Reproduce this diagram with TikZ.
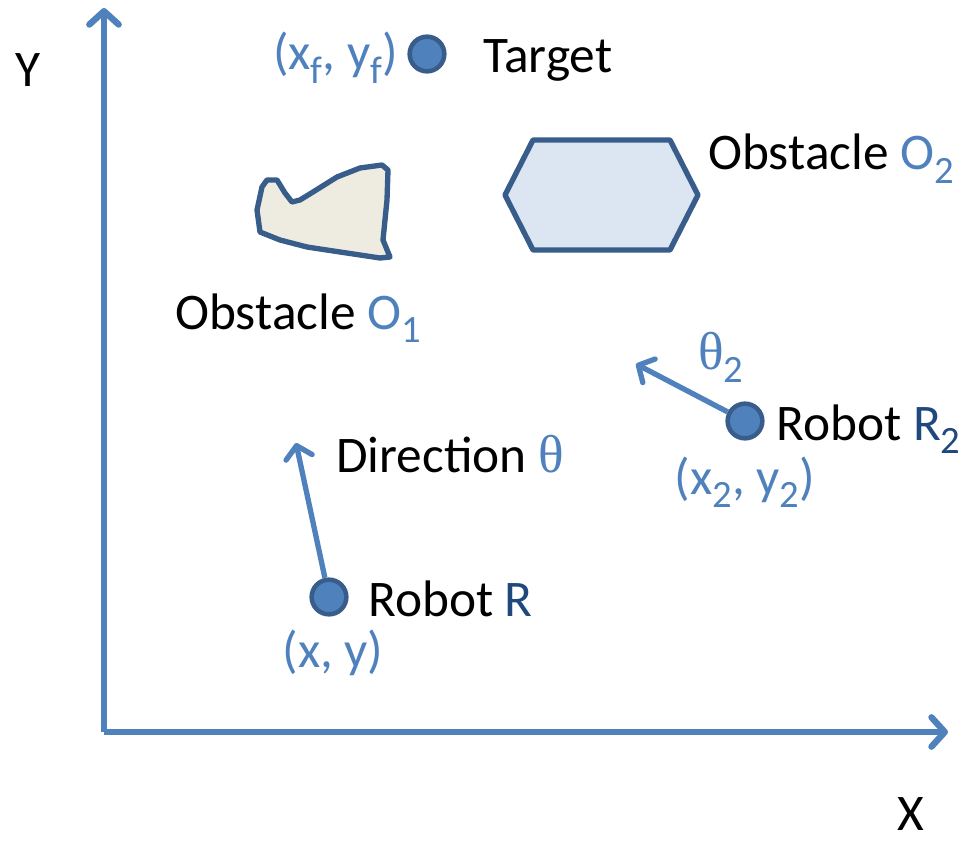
\documentclass[tikz,border=0pt]{standalone}
\usepackage{fontspec}
\setmainfont{Carlito}
\newfontfamily\greekfont{Liberation Serif}
\usetikzlibrary{arrows.meta}

\definecolor{axisblue}{HTML}{4F81BD}
\definecolor{edgeblue}{HTML}{385D8A}
\definecolor{namblue}{HTML}{1F497D}
\definecolor{hexfill}{HTML}{DCE6F2}
\definecolor{rockfill}{HTML}{EEECE1}

% lowered index in the text font
\newcommand{\lowidx}[1]{\raisebox{-0.55ex}{\fontsize{29}{29}\selectfont #1}}
\newcommand{\thet}{{\greekfont\fontsize{40}{44}\selectfont θ}}

\begin{document}
\begin{tikzpicture}[x=0.75pt, y=-0.75pt,
    word/.style={inner sep=0pt, anchor=base west, font=\fontsize{38.5}{44}\selectfont},
    posn/.style={word, text=axisblue},
    robot/.style={circle, inner sep=0pt, minimum size=26pt, fill=axisblue,
      draw=edgeblue, line width=3.4pt},
    axis/.style={draw=axisblue, line width=4.8pt,
      -{Straight Barb[length=10pt, width=22pt, round, line width=4.8pt]}},
    heading/.style={draw=axisblue, line width=4pt,
      -{Straight Barb[length=9pt, width=20pt, round, line width=4pt]}},
    blob/.style={draw=edgeblue, line width=4pt, line join=round}]
  \useasboundingbox (0,0) rectangle (961,842);
  % Axes.
  \coordinate (origin) at (104,732);
  \coordinate (ytip) at (104,8);
  \coordinate (xtip) at (948,732);
  \draw[axis] (origin) -- (ytip);
  \draw[axis] (origin) -- (xtip);
  \node[word] (ylbl) at (15,87) {Y};
  \node[word] (xlbl) at (897,830) {X};
  % Obstacle O1: hand-drawn outline.
  \draw[blob, fill=rockfill] (267,180) -- (277,180) -- (285,193) -- (292,202)
    -- (300,200) -- (313,192) -- (337,177) -- (360,168) -- (382,165)
    -- (388,170) -- (387,200) -- (383,240) -- (390,257) -- (380,258)
    -- (340,252) -- (307,247) -- (280,240) -- (260,232) -- (257,210)
    -- (262,187) -- cycle;
  \node[word] (obs1) at (175,329) {Obstacle \textcolor{axisblue}{O\lowidx{1}}};
  % Obstacle O2: hexagon.
  \draw[blob, fill=hexfill] (533,140) -- (670,140) -- (698,195) -- (670,250)
    -- (533,250) -- (505,195) -- cycle;
  \node[word] (obs2) at (708,170) {Obstacle \textcolor{axisblue}{O\lowidx{2}}};
  % Target.
  \node[robot] (tgt) at (427,54) {};
  \node[word] (tgtlbl) at (483,73) {Target};
  \node[posn, anchor=base east] (tgtpos) at (398,70) {(x\lowidx{f}, y\lowidx{f})};
  % Robot R.
  \coordinate (rtip) at (296,443);
  \node[robot] (rob) at (329,597) {};
  \draw[heading] (rob) -- (rtip);
  \node[word] (roblbl) at (368,616) {Robot \textcolor{namblue}{R}};
  \node[posn, anchor=base] (robpos) at (333,667) {(x, y)};
  \node[word] (dirlbl) at (336,472) {Direction \textcolor{axisblue}{\thet}};
  % Robot R2.
  \coordinate (r2tip) at (636,364);
  \node[robot] (rob2) at (745,421) {};
  \draw[heading] (rob2) -- (r2tip);
  \node[word] (rob2lbl) at (776,440) {Robot \textcolor{namblue}{R\lowidx{2}}};
  \node[posn, anchor=base] (rob2pos) at (745,494) {(x\lowidx{2}, y\lowidx{2})};
  \node[posn] (ang2) at (698,369) {\thet\lowidx{2}};
\end{tikzpicture}
\end{document}
